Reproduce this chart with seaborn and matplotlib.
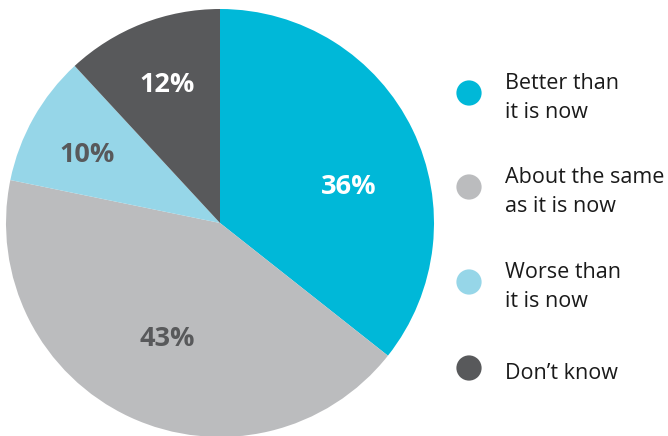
import matplotlib
matplotlib.use("Agg")
import matplotlib.pyplot as plt
import seaborn as sns
import numpy as np

sns.set_theme(style="white")
plt.rcParams['font.family'] = ['Open Sans', 'DejaVu Sans']

categories = ["Better than\nit is now", "About the same\nas it is now", "Worse than\nit is now", "Don’t know"]
values = [36, 43, 10, 12]
pct_labels = ["36%", "43%", "10%", "12%"]
colors = ["#00B8D8", "#BBBCBE", "#96D6E8", "#58595B"]
label_colors = ["white", "#58595B", "#58595B", "white"]
# radial distance and angular tweak (deg) for each percentage label
label_r = [0.63, 0.60, 0.70, 0.70]
label_dtheta = [-8.5, 2.0, 4.5, 0.5]
# fine pixel nudges (x right, y down)
nudge_px = [(0, 4), (-3, -2), (3, -5), (3, 1)]

fig = plt.figure(figsize=(6.68, 4.36), dpi=100)
W, H = 668, 436
cx, cy, R = 220, 223, 214
ax = fig.add_axes([(cx - R) / W, (H - cy - R) / H, 2 * R / W, 2 * R / H])
wedges, _ = ax.pie(values, colors=colors, startangle=90, counterclock=False,
                   radius=1, wedgeprops=dict(linewidth=0))
for w, lab, lc, r, dt, (nx, ny) in zip(wedges, pct_labels, label_colors, label_r, label_dtheta, nudge_px):
    th = np.deg2rad((w.theta1 + w.theta2) / 2 + dt)
    ax.text(r * np.cos(th) + nx / R, r * np.sin(th) - ny / R, lab, ha="center", va="center",
            fontsize=19.5, fontweight="bold", color=lc)
ax.set_xlim(-1, 1)
ax.set_ylim(-1, 1)
ax.set_aspect("equal")
ax.axis("off")

# legend drawn in pixel coordinates
lax = fig.add_axes([0, 0, 1, 1], facecolor="none")
lax.set_xlim(0, W)
lax.set_ylim(H, 0)
lax.axis("off")
ys = [93, 187, 282, 368]
for y, c, cat in zip(ys, colors, categories):
    lax.scatter([469], [y], s=330, color=c, edgecolor="none")
    lax.text(505, y + 5, cat, ha="left", va="center", fontsize=15.5,
             color="#1a1a1a", linespacing=1.55)

fig.savefig("out.png", dpi=100)
